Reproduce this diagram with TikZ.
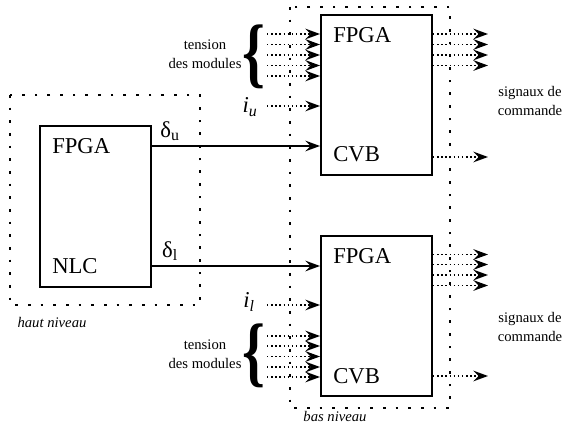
\documentclass[tikz,border=0pt]{standalone}
\usepackage{fontspec}
\setmainfont{Liberation Serif}
\usetikzlibrary{positioning,arrows.meta}

\tikzset{
  blk/.style={draw, line width=1.5pt, minimum width=83.25pt, minimum height=120pt, inner sep=0pt},
  zone/.style={line width=1.7pt, dash pattern=on 2pt off 7.5pt},
  sig/.style={dotted, line width=1.1pt, -{Stealth[length=11pt,width=8pt,inset=4pt]}},
  cmd/.style={line width=1.2pt, -{Stealth[length=11pt,width=8pt,inset=4pt]}},
  big/.style={font=\fontsize{17}{20}\selectfont, inner sep=0pt},
  small/.style={font=\fontsize{11}{14}\selectfont, align=center, inner sep=0pt},
  brc/.style={inner sep=0pt, font=\fontsize{58}{58}\selectfont\bfseries}
}

\begin{document}
\begin{tikzpicture}[x=0.75pt,y=-0.75pt]
\useasboundingbox (0,0) rectangle (563,423);

% zones
\draw[zone] (10,95) rectangle (200,305);
\draw[zone] (290,7) rectangle (450,408);
\node[small, font=\fontsize{11}{14}\selectfont\itshape] (haut) at (52,322) {haut niveau};
\node[small, font=\fontsize{11}{14}\selectfont\itshape] (bas) at (335,416) {bas niveau};

% blocks
\node[blk, minimum height=120.75pt] (nlc)  at (95.5,206.5) {};
\node[blk] (cvbU) at (376.5,95) {};
\node[blk] (cvbL) at (376.5,316) {};

\node[big, anchor=base west] (tnlc1) at (52,154)  {FPGA};
\node[big, anchor=base west] (tnlc2) at (52,274)  {NLC};
\node[big, anchor=base west] (tU1)   at (333,43)  {FPGA};
\node[big, anchor=base west] (tU2)   at (333,162) {CVB};
\node[big, anchor=base west] (tL1)   at (333,264) {FPGA};
\node[big, anchor=base west] (tL2)   at (333,383) {CVB};

% commandes
\coordinate (du) at (151,146);
\coordinate (dl) at (151,266);
\draw[cmd] (du) -- (du -| cvbU.west);
\draw[cmd] (dl) -- (dl -| cvbL.west);
\node[big, font=\fontsize{17}{20}\selectfont] (ldu) at (170,131) {δ\textsubscript{u}};
\node[big, font=\fontsize{17}{20}\selectfont] (ldl) at (170,251) {δ\textsubscript{l}};

% courants
\coordinate (iu) at (267,106);
\coordinate (il) at (267,305);
\draw[sig] (iu) -- (iu -| cvbU.west);
\draw[sig] (il) -- (il -| cvbL.west);
\node[big, font=\fontsize{17}{18}\selectfont\itshape] (liu) at (250,107) {i\textsubscript{u}};
\node[big, font=\fontsize{17}{18}\selectfont\itshape] (lil) at (249,302) {i\textsubscript{l}};

% tensions des modules
\foreach \y [count=\i] in {34,44.5,55,65.5,76}
{
  \coordinate (vU\i) at (267,\y);
  \draw[sig] (vU\i) -- (vU\i -| cvbU.west);
}
\foreach \y [count=\i] in {336,346,356.5,367,377}
{
  \coordinate (vL\i) at (267,\y);
  \draw[sig] (vL\i) -- (vL\i -| cvbL.west);
}
\node[brc] (brU) at (254,56.5) {\scalebox{0.75}[1]{\{}};
\node[brc] (brL) at (254,355.5) {\scalebox{0.75}[1]{\{}};
\node[small] (tmU) at (205,54) {tension\\des modules};
\node[small] (tmL) at (205,354) {tension\\des modules};

% signaux de commande
\foreach \y [count=\i] in {34,44.5,55,65.5,157}
{
  \coordinate (sU\i) at (488,\y);
  \draw[sig] (sU\i -| cvbU.east) -- (sU\i);
}
\foreach \y [count=\i] in {254.5,264.5,275,285.5,376}
{
  \coordinate (sL\i) at (488,\y);
  \draw[sig] (sL\i -| cvbL.east) -- (sL\i);
}
\node[small] (scU) at (530,101) {signaux de\\commande};
\node[small] (scL) at (530,327) {signaux de\\commande};

\end{tikzpicture}
\end{document}
